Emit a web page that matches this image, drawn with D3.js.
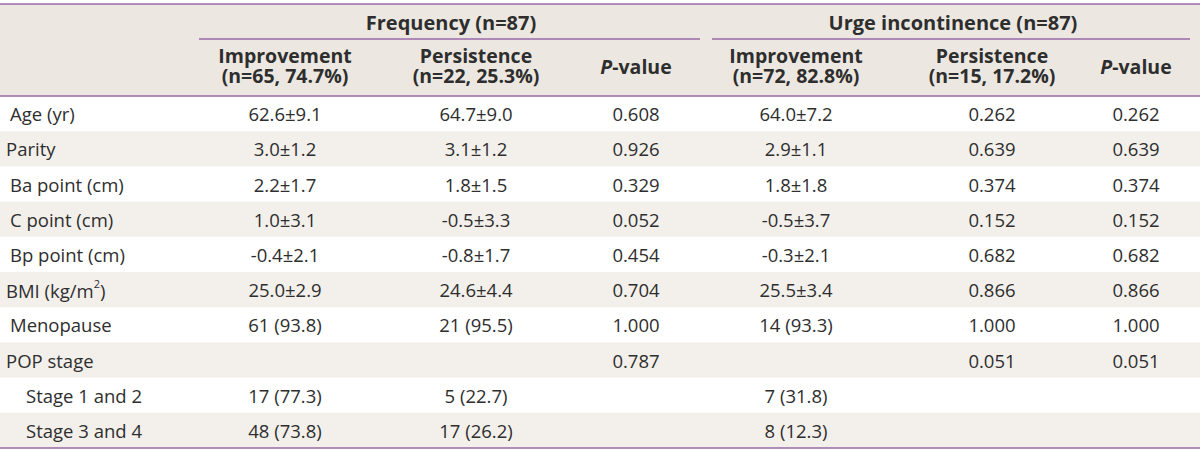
<!DOCTYPE html>
<html><head><meta charset="utf-8">
<script src="https://cdn.jsdelivr.net/npm/d3@7"></script>
<style>
html,body{margin:0;padding:0;background:#fff;}
svg text{font-family:"Open Sans","Noto Sans",sans-serif;fill:#2e2e2e;}
</style></head>
<body><svg id="chart" width="1200" height="452"></svg>
<script>
const groups = ["Frequency (n=87)", "Urge incontinence (n=87)"];
const subHeaders = [
  ["Improvement", "(n=65, 74.7%)"], ["Persistence", "(n=22, 25.3%)"], ["P-value", ""],
  ["Improvement", "(n=72, 82.8%)"], ["Persistence", "(n=15, 17.2%)"], ["P-value", ""]
];
const rowLabels = ["Age (yr)", "Parity", "Ba point (cm)", "C point (cm)", "Bp point (cm)", "BMI (kg/m2)", "Menopause", "POP stage", "Stage 1 and 2", "Stage 3 and 4"];
const rowIndent = [1, 0, 1, 1, 1, 0, 1, 0, 2, 2];
const freqImprovement = ["62.6±9.1", "3.0±1.2", "2.2±1.7", "1.0±3.1", "-0.4±2.1", "25.0±2.9", "61 (93.8)", "", "17 (77.3)", "48 (73.8)"];
const freqPersistence = ["64.7±9.0", "3.1±1.2", "1.8±1.5", "-0.5±3.3", "-0.8±1.7", "24.6±4.4", "21 (95.5)", "", "5 (22.7)", "17 (26.2)"];
const freqP = ["0.608", "0.926", "0.329", "0.052", "0.454", "0.704", "1.000", "0.787", "", ""];
const urgeImprovement = ["64.0±7.2", "2.9±1.1", "1.8±1.8", "-0.5±3.7", "-0.3±2.1", "25.5±3.4", "14 (93.3)", "", "7 (31.8)", "8 (12.3)"];
const urgePersistence = ["0.262", "0.639", "0.374", "0.152", "0.682", "0.866", "1.000", "0.051", "", ""];
const urgeP = ["0.262", "0.639", "0.374", "0.152", "0.682", "0.866", "1.000", "0.051", "", ""];
const columns = [freqImprovement, freqPersistence, freqP, urgeImprovement, urgePersistence, urgeP];

const W = 1200, purple = "#9a6aa8", headBg = "#ece8e1", stripe = "#f3f0eb";
const svg = d3.select("#chart");
const topY = 4, headBottom = 96, bottomY = 448;
const bodySize = 18.5, headSize = 19.5;

const y = d3.scaleBand().domain(d3.range(rowLabels.length)).range([headBottom, bottomY]).padding(0);
const colX = d3.scaleOrdinal().domain(d3.range(6)).range([285, 476, 636, 796, 992, 1136]);
const groupSpan = [[199, 700], [712, 1190]];
const groupX = [451, 953];
const indentX = d3.scaleOrdinal().domain([0, 1, 2]).range([6, 10, 26]);

svg.append("rect").attr("x", 0).attr("y", topY).attr("width", W).attr("height", headBottom - topY).attr("fill", headBg);
svg.selectAll("rect.stripe").data(d3.range(rowLabels.length).filter(i => i % 2 === 1)).join("rect")
  .attr("class", "stripe").attr("x", 0).attr("y", i => y(i)).attr("width", W).attr("height", y.bandwidth()).attr("fill", stripe);

groups.forEach((g, i) => {
  const [a, b] = groupSpan[i];
  svg.append("text").attr("x", groupX[i]).attr("y", 30).attr("text-anchor", "middle")
    .attr("font-size", 20).attr("font-weight", 700).text(g);
  svg.append("line").attr("x1", a).attr("x2", b).attr("y1", 39).attr("y2", 39).attr("stroke", purple).attr("stroke-width", 1.5);
});
subHeaders.forEach((h, i) => {
  const t = svg.append("text").attr("x", colX(i)).attr("text-anchor", "middle").attr("font-size", headSize).attr("font-weight", 700);
  if (h[0] === "P-value") {
    t.attr("y", 74);
    t.append("tspan").attr("font-style", "italic").text("P");
    t.append("tspan").text("-value");
  } else {
    t.attr("y", 63);
    t.append("tspan").attr("x", colX(i)).text(h[0]);
    t.append("tspan").attr("x", colX(i)).attr("dy", 20).text(h[1]);
  }
});

rowLabels.forEach((lab, i) => {
  const t = svg.append("text").attr("x", indentX(rowIndent[i])).attr("y", y(i) + y.bandwidth() / 2)
    .attr("dominant-baseline", "central").attr("font-size", bodySize);
  if (lab === "BMI (kg/m2)") {
    t.append("tspan").text("BMI (kg/m");
    t.append("tspan").attr("font-size", 11).attr("dy", -7).text("2");
    t.append("tspan").attr("dy", 7).text(")");
  } else t.text(lab);
});
columns.forEach((col, c) => {
  svg.selectAll("text.c" + c).data(col).join("text").attr("class", "c" + c)
    .attr("x", colX(c)).attr("y", (d, i) => y(i) + y.bandwidth() / 2)
    .attr("text-anchor", "middle").attr("dominant-baseline", "central").attr("font-size", bodySize).text(d => d);
});

[topY, headBottom, bottomY].forEach(yy => {
  svg.append("line").attr("x1", 0).attr("x2", W).attr("y1", yy).attr("y2", yy).attr("stroke", purple).attr("stroke-width", 1.5);
});
</script></body></html>
